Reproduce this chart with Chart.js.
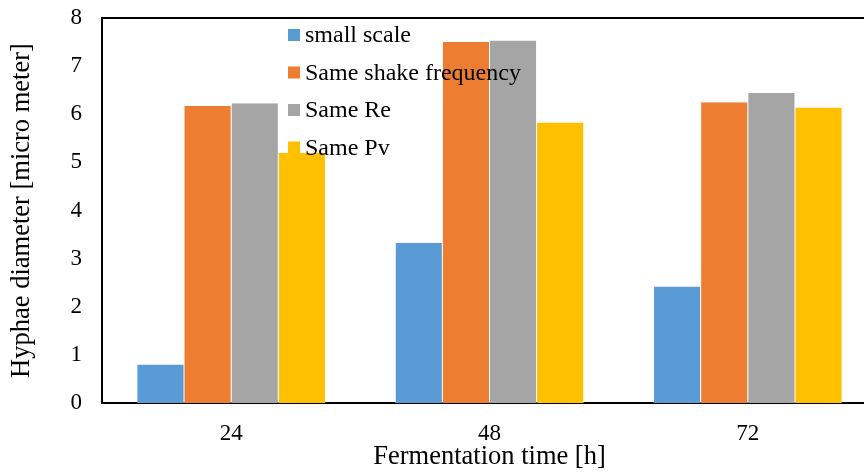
<!DOCTYPE html>
<html>
<head>
<meta charset="utf-8">
<script src="https://cdn.jsdelivr.net/npm/chart.js@4"></script>
<style>
  html, body { margin: 0; padding: 0; overflow: hidden; background: #fff; }
  #wrap { width: 880px; height: 473px; }
</style>
</head>
<body>
<div id="wrap"><canvas id="graph1"></canvas></div>
<script>
// donnees
let times = ["24", "48", "72"];
let seriesNames = ["small scale", "Same shake frequency", "Same Re", "Same Pv"];
let smallScale = [0.8, 3.33, 2.42];
let sameShake = [6.17, 7.5, 6.25];
let sameRe = [6.23, 7.53, 6.44];
let samePv = [5.2, 5.83, 6.14];
let colors = ["#5B9BD5", "#ED7D31", "#A5A5A5", "#FFC000"];
let yTicks = [0, 1, 2, 3, 4, 5, 6, 7, 8];

let values = [smallScale, sameShake, sameRe, samePv];
let datagraph = [];
for (let i = 0; i < seriesNames.length; i++) {
    datagraph.push({
        label: seriesNames[i],
        data: values[i],
        backgroundColor: colors[i],
        borderColor: "#ffffff",
        borderWidth: { left: 0.5, right: 0.5, top: 0, bottom: 0 },
        borderSkipped: false,
        categoryPercentage: 0.73,
        barPercentage: 1.0
    });
}

const font = "'Liberation Serif', 'Times New Roman', serif";

// legende dessinee dans la zone du graphe
const innerLegend = {
    id: "innerLegend",
    afterDraw(chart) {
        const c = chart.ctx;
        c.save();
        c.font = "24px " + font;
        c.textBaseline = "middle";
        chart.data.datasets.forEach((ds, i) => {
            let y = 35 + i * 37.5;
            c.fillStyle = ds.backgroundColor;
            c.fillRect(288, y - 6, 12, 12);
            c.fillStyle = "#000";
            c.fillText(ds.label, 305, y + 1);
        });
        // bordure haute
        c.strokeStyle = "#000";
        c.lineWidth = 2;
        c.beginPath();
        c.moveTo(chart.chartArea.left - 1, chart.chartArea.top);
        c.lineTo(chart.chartArea.right + 10, chart.chartArea.top);
        c.stroke();
        c.restore();
    }
};

let ctx = document.getElementById("graph1").getContext("2d");
let chart = new Chart(ctx, {
    type: "bar",
    data: {
        labels: times,
        datasets: datagraph
    },
    options: {
        responsive: true,
        maintainAspectRatio: false,
        animation: false,
        layout: { padding: { top: 18, right: 3, left: 0, bottom: 0 } },
        plugins: {
            legend: { display: false },
            tooltip: { enabled: false }
        },
        scales: {
            x: {
                grid: { display: false, drawTicks: false },
                border: { display: true, color: "#000", width: 2 },
                ticks: { color: "#000", font: { family: font, size: 23 }, padding: 17 },
                title: {
                    display: true,
                    text: "Fermentation time [h]",
                    color: "#000",
                    font: { family: font, size: 26.5 },
                    padding: { top: 2, bottom: 0 }
                },
                afterFit: (s) => { s.height = 70; s.paddingLeft = 0; s.paddingRight = 0; }
            },
            y: {
                min: 0,
                max: 8,
                afterBuildTicks: (s) => { s.ticks = yTicks.map(v => ({ value: v })); },
                grid: { display: false, drawTicks: false },
                border: { display: true, color: "#000", width: 2 },
                ticks: { color: "#000", font: { family: font, size: 23 }, padding: 20 },
                title: {
                    display: true,
                    text: "Hyphae diameter [micro meter]",
                    color: "#000",
                    font: { family: font, size: 26.5 },
                    padding: { top: 6, bottom: 0 }
                },
                afterFit: (s) => { s.width = 102; s.paddingTop = 0; s.paddingBottom = 0; }
            }
        }
    },
    plugins: [innerLegend]
});
</script>
</body>
</html>
